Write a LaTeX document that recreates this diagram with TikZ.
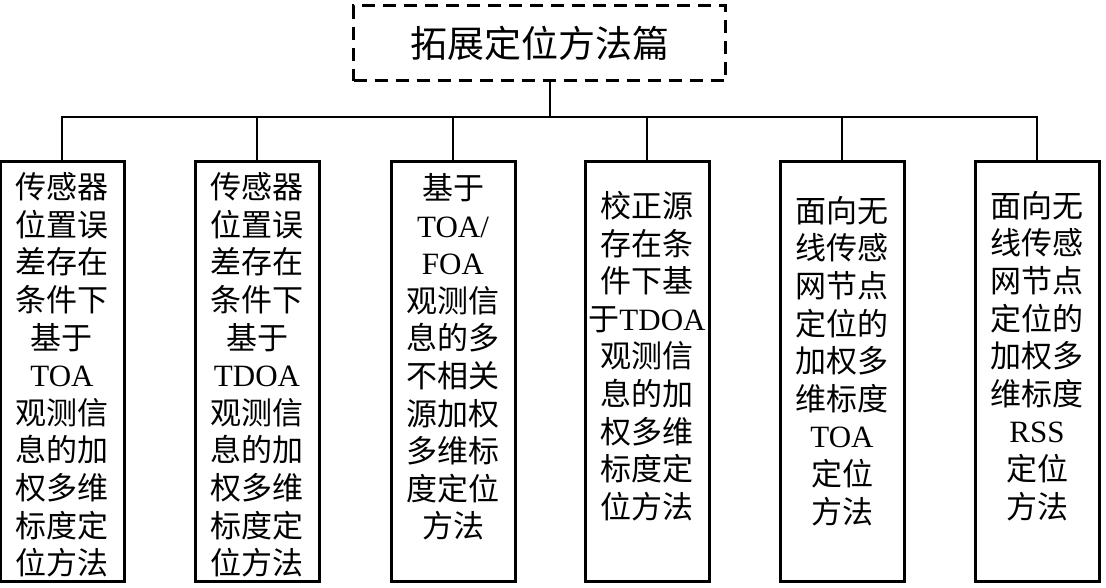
\documentclass[tikz,border=0pt]{standalone}
\usepackage{fontspec}
\setmainfont{Liberation Serif}
\newfontfamily\cjk{Noto Sans CJK SC}
\begin{document}
\begin{tikzpicture}[x=1pt,y=-1pt,
  leafbox/.style={draw,line width=3pt,minimum width=124pt,minimum height=420pt,inner sep=0pt},
  leaftext/.style={inner sep=0pt,align=center,font=\cjk\fontsize{31}{37.6}\selectfont},
  titlebox/.style={draw,line width=3pt,dash pattern=on 13pt off 8pt,minimum width=372pt,minimum height=75pt,inner sep=0pt,font=\cjk\fontsize{37}{44}\selectfont},
  conn/.style={line width=1.4pt}]
\useasboundingbox (0,0) rectangle (1106,587);
\node[titlebox] (title) at (539.5,43) {\raisebox{3pt}{拓展定位方法篇}};
\coordinate (bus) at (550,117);
\node[leafbox] (b1) at (62,371.5) {};
\node[leafbox] (b2) at (257,371.5) {};
\node[leafbox] (b3) at (453,371.5) {};
\node[leafbox] (b4) at (647,371.5) {};
\node[leafbox] (b5) at (842,371.5) {};
\node[leafbox] (b6) at (1037,371.5) {};
\node[leaftext] (t1) at (62,375) {传感器\\位置误\\差存在\\条件下\\基于\\{\rmfamily TOA}\\观测信\\息的加\\权多维\\标度定\\位方法};
\node[leaftext] (t2) at (257,375) {传感器\\位置误\\差存在\\条件下\\基于\\{\rmfamily TDOA}\\观测信\\息的加\\权多维\\标度定\\位方法};
\node[leaftext] (t3) at (453,357) {基于\\{\rmfamily TOA/}\\{\rmfamily FOA}\\观测信\\息的多\\不相关\\源加权\\多维标\\度定位\\方法};
\node[leaftext] (t4) at (647,356) {校正源\\存在条\\件下基\\于{\rmfamily TDOA}\\观测信\\息的加\\权多维\\标度定\\位方法};
\node[leaftext] (t5) at (842,361) {面向无\\线传感\\网节点\\定位的\\加权多\\维标度\\{\rmfamily TOA}\\定位\\方法};
\node[leaftext] (t6) at (1037,356) {面向无\\线传感\\网节点\\定位的\\加权多\\维标度\\{\rmfamily RSS}\\定位\\方法};
\draw[conn] (title.south -| bus) -- (bus);
\draw[conn] (b1.north) -- (b1.north |- bus) -- (b6.north |- bus) -- (b6.north);
\foreach \i in {2,3,4,5} \draw[conn] (b\i.north) -- (b\i.north |- bus);
\end{tikzpicture}
\end{document}
